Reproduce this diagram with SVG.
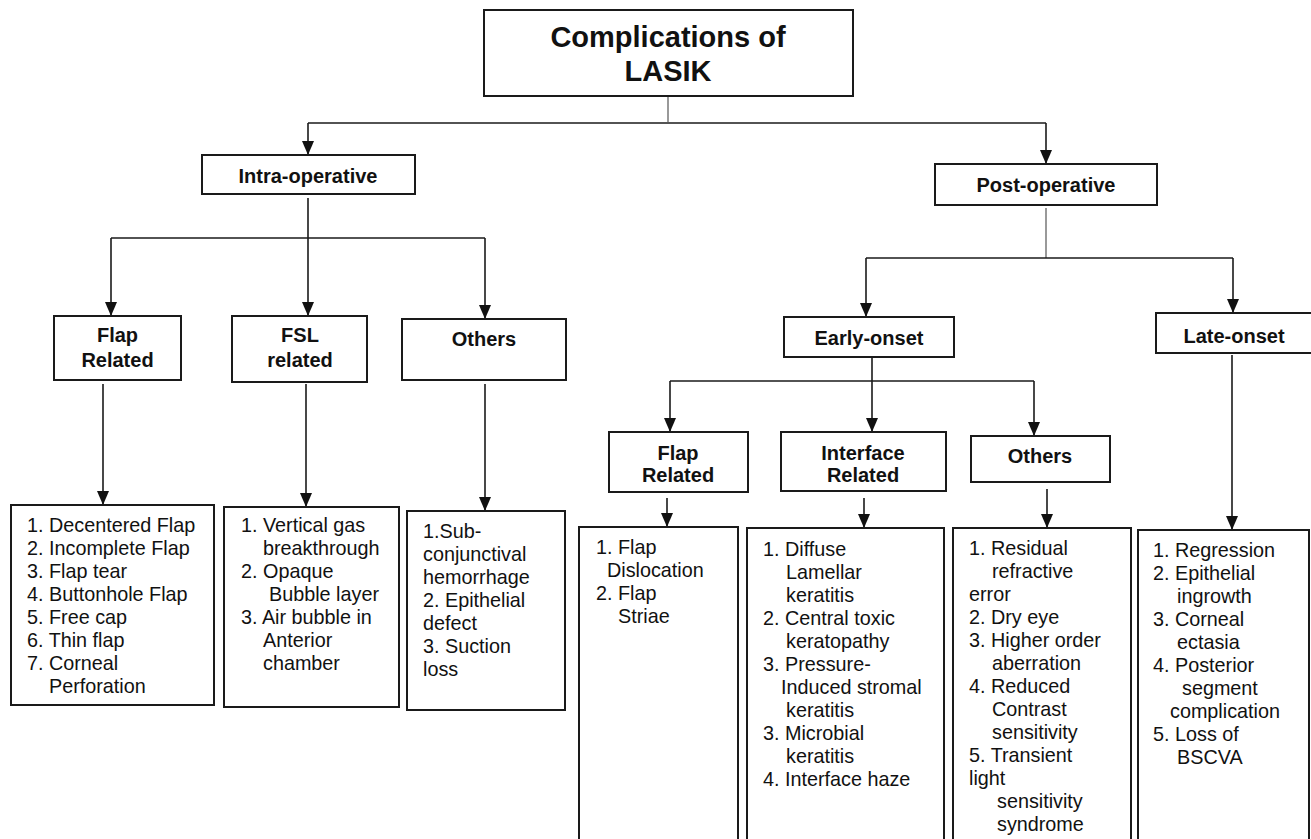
<svg xmlns="http://www.w3.org/2000/svg" width="1311" height="839" viewBox="0 0 1311 839">
<defs>
<style>
.box{fill:#fff;stroke:#1a1a1a;stroke-width:2}
.h{font-family:"Liberation Sans",Arial,sans-serif;font-weight:bold;font-size:20px;fill:#111;text-anchor:middle}
.t{font-family:"Liberation Sans",Arial,sans-serif;font-size:19.8px;fill:#111}
.ln{stroke:#1a1a1a;stroke-width:1.6;fill:none}
.thin{stroke:#555;stroke-width:1.2;fill:none}
.ar{stroke:#1a1a1a;stroke-width:1.6;fill:none;marker-end:url(#ah)}
</style>
<marker id="ah" viewBox="0 0 14 12" refX="14" refY="6" markerWidth="14" markerHeight="12" markerUnits="userSpaceOnUse" orient="auto">
<path d="M0,0 L14,6 L0,12 z" fill="#111"/>
</marker>
</defs>
<rect width="1311" height="839" fill="#fff"/>

<g id="connectors">
<line class="thin" x1="668" y1="97" x2="668" y2="122"/>
<line class="ln" x1="308" y1="123" x2="1046" y2="123"/>
<line class="ar" x1="308" y1="123" x2="308" y2="155"/>
<line class="ar" x1="1046" y1="123" x2="1046" y2="164"/>
<line class="ar" x1="308" y1="198" x2="308" y2="316"/>
<line class="ln" x1="111" y1="238" x2="485" y2="238"/>
<line class="ar" x1="111" y1="238" x2="111" y2="316"/>
<line class="ar" x1="485" y1="238" x2="485" y2="319"/>
<line class="ar" x1="103" y1="384" x2="103" y2="505"/>
<line class="ar" x1="306" y1="384" x2="306" y2="507"/>
<line class="ar" x1="485" y1="384" x2="485" y2="511"/>
<line class="thin" x1="1046" y1="208" x2="1046" y2="258"/>
<line class="ln" x1="866" y1="258" x2="1233" y2="258"/>
<line class="ar" x1="866" y1="258" x2="866" y2="317"/>
<line class="ar" x1="1233" y1="258" x2="1233" y2="313"/>
<line class="ar" x1="872" y1="358" x2="872" y2="432"/>
<line class="ln" x1="670" y1="381" x2="1034" y2="381"/>
<line class="ar" x1="670" y1="381" x2="670" y2="432"/>
<line class="ar" x1="1034" y1="381" x2="1034" y2="436"/>
<line class="ar" x1="667" y1="498" x2="667" y2="527"/>
<line class="ar" x1="864" y1="498" x2="864" y2="528"/>
<line class="ar" x1="1047" y1="489" x2="1047" y2="528"/>
<line class="ar" x1="1232" y1="355" x2="1232" y2="530"/>
</g>

<g id="root">
<rect class="box" x="484" y="10" width="369" height="86"/>
<text class="h" style="font-size:29px" x="668" y="47">Complications of</text>
<text class="h" style="font-size:29px" x="668" y="81">LASIK</text>
</g>

<g id="intra">
<rect class="box" x="202" y="155" width="213" height="39"/>
<text class="h" x="308" y="183">Intra-operative</text>
</g>

<g id="post">
<rect class="box" x="935" y="164" width="222" height="41"/>
<text class="h" x="1046" y="192">Post-operative</text>
</g>

<g id="intra-flap">
<rect class="box" x="54" y="316" width="127" height="64"/>
<text class="h" x="117.5" y="342">Flap</text>
<text class="h" x="117.5" y="367">Related</text>
</g>

<g id="intra-fsl">
<rect class="box" x="232" y="316" width="135" height="66"/>
<text class="h" x="300" y="342">FSL</text>
<text class="h" x="300" y="367">related</text>
</g>

<g id="intra-others">
<rect class="box" x="402" y="319" width="164" height="61"/>
<text class="h" x="484" y="346">Others</text>
</g>

<g id="early">
<rect class="box" x="784" y="317" width="170" height="40"/>
<text class="h" x="869" y="345">Early-onset</text>
</g>

<g id="late">
<rect class="box" x="1156" y="313" width="170" height="40"/>
<text class="h" x="1234" y="343">Late-onset</text>
</g>

<g id="post-flap">
<rect class="box" x="609" y="432" width="139" height="60"/>
<text class="h" x="678" y="460">Flap</text>
<text class="h" x="678" y="482">Related</text>
</g>

<g id="post-interface">
<rect class="box" x="781" y="432" width="165" height="59"/>
<text class="h" x="863" y="460">Interface</text>
<text class="h" x="863" y="482">Related</text>
</g>

<g id="post-others">
<rect class="box" x="971" y="436" width="139" height="46"/>
<text class="h" x="1040" y="463">Others</text>
</g>

<g id="list-intra-flap">
<rect class="box" x="11" y="505" width="203" height="200"/>
<text class="t" x="27" y="532">1. Decentered Flap</text>
<text class="t" x="27" y="555">2. Incomplete Flap</text>
<text class="t" x="27" y="578">3. Flap tear</text>
<text class="t" x="27" y="601">4. Buttonhole Flap</text>
<text class="t" x="27" y="624">5. Free cap</text>
<text class="t" x="27" y="647">6. Thin flap</text>
<text class="t" x="27" y="670">7. Corneal</text>
<text class="t" x="49" y="693">Perforation</text>
</g>

<g id="list-intra-fsl">
<rect class="box" x="224" y="507" width="175" height="200"/>
<text class="t" x="241" y="532">1. Vertical gas</text>
<text class="t" x="263" y="555">breakthrough</text>
<text class="t" x="241" y="578">2. Opaque</text>
<text class="t" x="269" y="601">Bubble layer</text>
<text class="t" x="241" y="624">3. Air bubble in</text>
<text class="t" x="263" y="647">Anterior</text>
<text class="t" x="263" y="670">chamber</text>
</g>

<g id="list-intra-others">
<rect class="box" x="407" y="511" width="158" height="199"/>
<text class="t" x="423" y="538">1.Sub-</text>
<text class="t" x="423" y="561">conjunctival</text>
<text class="t" x="423" y="584">hemorrhage</text>
<text class="t" x="423" y="607">2. Epithelial</text>
<text class="t" x="423" y="630">defect</text>
<text class="t" x="423" y="653">3. Suction</text>
<text class="t" x="423" y="676">loss</text>
</g>

<g id="list-post-flap">
<rect class="box" x="579" y="527" width="159" height="330"/>
<text class="t" x="596" y="554">1. Flap</text>
<text class="t" x="607" y="577">Dislocation</text>
<text class="t" x="596" y="600">2. Flap</text>
<text class="t" x="618" y="623">Striae</text>
</g>

<g id="list-post-interface">
<rect class="box" x="747" y="528" width="197" height="330"/>
<text class="t" x="763" y="556">1. Diffuse</text>
<text class="t" x="786" y="579">Lamellar</text>
<text class="t" x="786" y="602">keratitis</text>
<text class="t" x="763" y="625">2. Central toxic</text>
<text class="t" x="786" y="648">keratopathy</text>
<text class="t" x="763" y="671">3. Pressure-</text>
<text class="t" x="781" y="694">Induced stromal</text>
<text class="t" x="786" y="717">keratitis</text>
<text class="t" x="763" y="740">3. Microbial</text>
<text class="t" x="786" y="763">keratitis</text>
<text class="t" x="763" y="786">4. Interface haze</text>
</g>

<g id="list-post-others">
<rect class="box" x="953" y="528" width="178" height="330"/>
<text class="t" x="969" y="555">1. Residual</text>
<text class="t" x="992" y="578">refractive</text>
<text class="t" x="969" y="601">error</text>
<text class="t" x="969" y="624">2. Dry eye</text>
<text class="t" x="969" y="647">3. Higher order</text>
<text class="t" x="992" y="670">aberration</text>
<text class="t" x="969" y="693">4. Reduced</text>
<text class="t" x="992" y="716">Contrast</text>
<text class="t" x="992" y="739">sensitivity</text>
<text class="t" x="969" y="762">5. Transient</text>
<text class="t" x="969" y="785">light</text>
<text class="t" x="997" y="808">sensitivity</text>
<text class="t" x="997" y="831">syndrome</text>
</g>

<g id="list-late">
<rect class="box" x="1138" y="530" width="171" height="330"/>
<text class="t" x="1153" y="557">1. Regression</text>
<text class="t" x="1153" y="580">2. Epithelial</text>
<text class="t" x="1177" y="603">ingrowth</text>
<text class="t" x="1153" y="626">3. Corneal</text>
<text class="t" x="1177" y="649">ectasia</text>
<text class="t" x="1153" y="672">4. Posterior</text>
<text class="t" x="1182" y="695">segment</text>
<text class="t" x="1170" y="718">complication</text>
<text class="t" x="1153" y="741">5. Loss of</text>
<text class="t" x="1177" y="764">BSCVA</text>
</g>
</svg>
